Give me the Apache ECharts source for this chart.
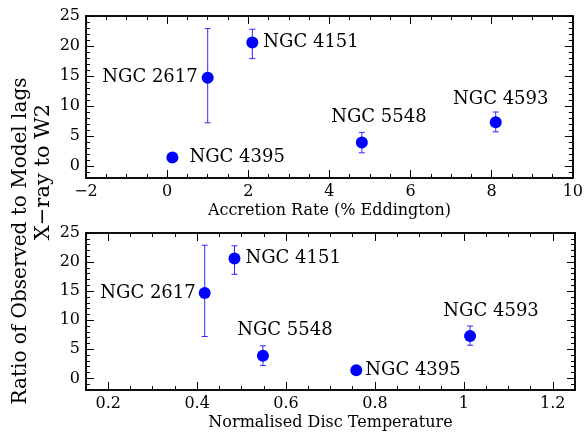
<!DOCTYPE html>
<html>
<head>
<meta charset="utf-8">
<script src="https://cdn.jsdelivr.net/npm/echarts@6/dist/echarts.min.js"></script>
<style>
    html, body { margin: 0; padding: 0; background: #fff; }
    #chart { width: 586px; height: 432px; }
</style>
</head>
<body>
<div id="chart"></div>
<script>
// Galaxy names, same order in both panels
const names = ['NGC 2617', 'NGC 4151', 'NGC 4395', 'NGC 5548', 'NGC 4593'];

// Ratio of observed to model lags, with error bar limits
const ratio = [14.7, 20.6, 1.4, 3.9, 7.3];
const ratioLow = [7.2, 17.9, 1.4, 2.2, 5.7];
const ratioHigh = [22.9, 22.8, 1.4, 5.6, 9.0];

// Top panel x: accretion rate (% Eddington)
const accretion = [1.0, 2.1, 0.13, 4.8, 8.1];
// Bottom panel x: normalised disc temperature
const discTemp = [0.417, 0.484, 0.758, 0.548, 1.014];

// Tick labels
const yTicks = [0, 5, 10, 15, 20, 25];
const yMinor = [-2, -1, 0, 1, 2, 3, 4, 5, 6, 7, 8, 9, 10, 11, 12, 13, 14, 15, 16, 17, 18, 19, 20, 21, 22, 23, 24, 25];
const accTicks = [-2, 0, 2, 4, 6, 8, 10];
const accMinor = [-2, -1.5, -1, -0.5, 0, 0.5, 1, 1.5, 2, 2.5, 3, 3.5, 4, 4.5, 5, 5.5, 6, 6.5, 7, 7.5, 8, 8.5, 9, 9.5, 10];
const tempTicks = [0.2, 0.4, 0.6, 0.8, 1.0, 1.2];
const tempMinor = [0.15, 0.2, 0.25, 0.3, 0.35, 0.4, 0.45, 0.5, 0.55, 0.6, 0.65, 0.7, 0.75, 0.8, 0.85, 0.9, 0.95, 1.0, 1.05, 1.1, 1.15, 1.2, 1.25];

const FONT = 'DejaVu Serif';
const BLUE = '#0000ff';

// label placement for each galaxy, per panel
const topLabelPos = {
    'NGC 2617': {position: 'left', distance: 4},
    'NGC 4151': {position: 'right', distance: 5},
    'NGC 4395': {position: 'right', distance: 11},
    'NGC 5548': {position: 'top', distance: 12, offset: [17, 2]},
    'NGC 4593': {position: 'top', distance: 10, offset: [5, 2]}
};
const bottomLabelPos = {
    'NGC 2617': {position: 'left', distance: 3},
    'NGC 4151': {position: 'right', distance: 5},
    'NGC 4395': {position: 'right', distance: 3},
    'NGC 5548': {position: 'top', distance: 11, offset: [22, 1]},
    'NGC 4593': {position: 'top', distance: 11, offset: [21, 1]}
};

// real minus sign on negative tick labels
function tickFormat(v) {
    return String(v).replace('-', '\u2212');
}

// builds the 4 x axes (major/minor, bottom/top) for one grid
function xAxes(grid, min, max, ticks, minor, name) {
    let base = {
        type: 'value', gridIndex: grid, min: min, max: max,
        splitLine: {show: false},
        axisLine: {show: true, onZero: false, lineStyle: {color: '#000', width: 1.5}}
    };
    return [
        Object.assign({}, base, {
            position: 'bottom',
            name: name, nameLocation: 'middle', nameGap: 25,
            nameTextStyle: {fontFamily: FONT, fontSize: 16, color: '#000'},
            axisTick: {inside: true, length: 8, customValues: ticks, lineStyle: {color: '#000'}},
            axisLabel: {customValues: ticks, formatter: tickFormat, fontFamily: FONT, fontSize: 16, color: '#000', margin: 6}
        }),
        Object.assign({}, base, {
            position: 'bottom',
            axisTick: {inside: true, length: 4, customValues: minor, lineStyle: {color: '#000'}},
            axisLabel: {show: false}
        }),
        Object.assign({}, base, {
            position: 'top',
            axisTick: {inside: true, length: 8, customValues: ticks, lineStyle: {color: '#000'}},
            axisLabel: {show: false}
        }),
        Object.assign({}, base, {
            position: 'top',
            axisTick: {inside: true, length: 4, customValues: minor, lineStyle: {color: '#000'}},
            axisLabel: {show: false}
        })
    ];
}

// same for y axes (left/right)
function yAxes(grid) {
    let base = {
        type: 'value', gridIndex: grid, min: -2, max: 25,
        splitLine: {show: false},
        axisLine: {show: true, onZero: false, lineStyle: {color: '#000', width: 1.5}}
    };
    return [
        Object.assign({}, base, {
            position: 'left',
            axisTick: {inside: true, length: 8, customValues: yTicks, lineStyle: {color: '#000'}},
            axisLabel: {customValues: yTicks, fontFamily: FONT, fontSize: 16, color: '#000', margin: 6}
        }),
        Object.assign({}, base, {
            position: 'left',
            axisTick: {inside: true, length: 4, customValues: yMinor, lineStyle: {color: '#000'}},
            axisLabel: {show: false}
        }),
        Object.assign({}, base, {
            position: 'right',
            axisTick: {inside: true, length: 8, customValues: yTicks, lineStyle: {color: '#000'}},
            axisLabel: {show: false}
        }),
        Object.assign({}, base, {
            position: 'right',
            axisTick: {inside: true, length: 4, customValues: yMinor, lineStyle: {color: '#000'}},
            axisLabel: {show: false}
        })
    ];
}

function errorBars(xs, axisIdx) {
    return {
        type: 'custom',
        xAxisIndex: axisIdx,
        yAxisIndex: axisIdx,
        data: xs.map((x, i) => [x, ratioLow[i], ratioHigh[i]]),
        renderItem: function (params, api) {
            let lo = api.coord([api.value(0), api.value(1)]);
            let hi = api.coord([api.value(0), api.value(2)]);
            let w = 3;
            let style = {stroke: '#2a2aff', lineWidth: 1};
            return {
                type: 'group',
                children: [
                    {type: 'line', shape: {x1: lo[0], y1: lo[1], x2: hi[0], y2: hi[1]}, style: style},
                    {type: 'line', shape: {x1: lo[0] - w, y1: lo[1], x2: lo[0] + w, y2: lo[1]}, style: style},
                    {type: 'line', shape: {x1: hi[0] - w, y1: hi[1], x2: hi[0] + w, y2: hi[1]}, style: style}
                ]
            };
        },
        silent: true,
        z: 2
    };
}

function points(xs, axisIdx, labelPos) {
    return {
        type: 'scatter',
        xAxisIndex: axisIdx,
        yAxisIndex: axisIdx,
        symbolSize: 12,
        itemStyle: {color: BLUE, opacity: 1},
        label: {
            show: true,
            formatter: p => p.name,
            fontFamily: FONT,
            fontSize: 18,
            color: '#000'
        },
        data: xs.map((x, i) => ({
            name: names[i],
            value: [x, ratio[i]],
            label: labelPos[names[i]]
        })),
        z: 3
    };
}

let myChart = echarts.init(document.getElementById('chart'), null, {renderer: 'canvas'});

let option = {
    animation: false,
    backgroundColor: '#fff',
    grid: [
        {left: 86, top: 16, width: 489, height: 162},
        {left: 86, top: 233, width: 489, height: 162}
    ],
    xAxis: xAxes(0, -2, 10, accTicks, accMinor, 'Accretion Rate (% Eddington)')
        .concat(xAxes(1, 0.15, 1.25, tempTicks, tempMinor, 'Normalised Disc Temperature')),
    yAxis: yAxes(0).concat(yAxes(1)),
    graphic: [
        {
            type: 'text', x: 21, y: 241, rotation: Math.PI / 2,
            style: {
                text: 'Ratio of Observed to Model lags',
                fontFamily: FONT, fontSize: 20, fill: '#000',
                align: 'center', verticalAlign: 'middle'
            }
        },
        {
            type: 'text', x: 44, y: 172, rotation: Math.PI / 2,
            style: {
                text: 'X\u2212ray to W2',
                fontFamily: FONT, fontSize: 21, fill: '#000',
                align: 'center', verticalAlign: 'middle'
            }
        }
    ],
    series: [
        errorBars(accretion, 0),
        points(accretion, 0, topLabelPos),
        errorBars(discTemp, 4),
        points(discTemp, 4, bottomLabelPos)
    ]
};

myChart.setOption(option);
</script>
</body>
</html>
